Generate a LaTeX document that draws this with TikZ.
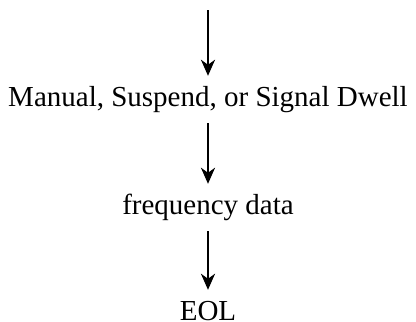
\documentclass[tikz,border=0pt]{standalone}
\usepackage{fontspec}
\setmainfont{Liberation Serif}
\usetikzlibrary{arrows.meta}

\begin{document}
\begin{tikzpicture}[x=1pt, y=1pt,
			every node/.style={font=\fontsize{29}{32}\selectfont, inner xsep=0pt, inner ysep=10pt,
				text height=20pt, text depth=7pt},
			stage/.style={anchor=base},
			flow/.style={-{Stealth[length=16pt, width=14pt, inset=5pt]}, line width=2.7pt}]

		\useasboundingbox (0, 0) rectangle (416, -322);

		\coordinate (in) at (208, -10);
		\node[stage] (dwell) at (208, -106) {Manual, Suspend, or Signal Dwell};
		\node[stage] (freq) at (208, -214) {frequency data};
		\node[stage] (eol) at (208, -320) {EOL};

		\draw[flow] (in) -- (dwell);
		\draw[flow] (dwell) -- (freq);
		\draw[flow] (freq) -- (eol);
	\end{tikzpicture}
\end{document}
